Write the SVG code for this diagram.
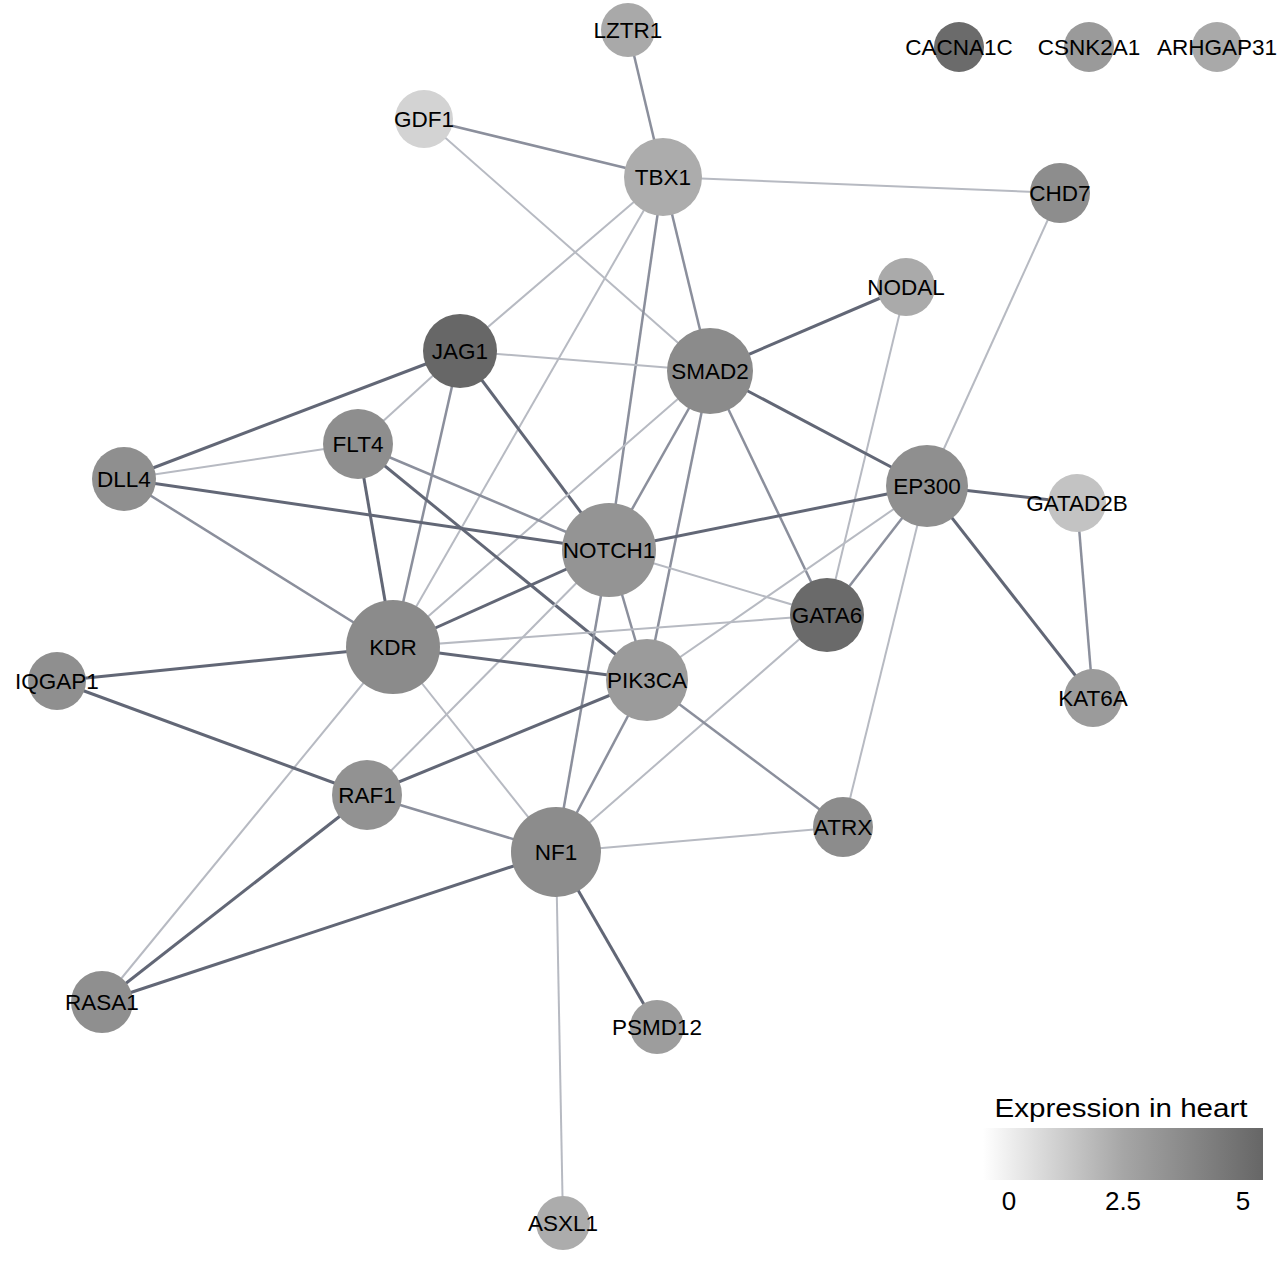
<svg xmlns="http://www.w3.org/2000/svg" width="1280" height="1261" viewBox="0 0 1280 1261">
<defs>
<style>
.e1{stroke:#626776;stroke-width:3;fill:none}
.e2{stroke:#8b8f9c;stroke-width:2.5;fill:none}
.e3{stroke:#b7bac2;stroke-width:2;fill:none}
text{font-family:"Liberation Sans",Arial,sans-serif;font-size:22.5px;fill:#000;text-anchor:middle}
.leg{font-size:26px}
</style>
<linearGradient id="grad" x1="0" y1="0" x2="1" y2="0">
<stop offset="0" stop-color="#ffffff"/>
<stop offset="0.5" stop-color="#a6a6a6"/>
<stop offset="1" stop-color="#666666"/>
</linearGradient>
</defs>
<rect width="1280" height="1261" fill="#ffffff"/>
<g id="edges">
<line class="e2" x1="628" y1="30" x2="663" y2="177"/>
<line class="e2" x1="424" y1="119" x2="663" y2="177"/>
<line class="e3" x1="424" y1="119" x2="710" y2="371"/>
<line class="e3" x1="663" y1="177" x2="1060" y2="193"/>
<line class="e3" x1="663" y1="177" x2="460" y2="351"/>
<line class="e3" x1="663" y1="177" x2="393" y2="647"/>
<line class="e2" x1="663" y1="177" x2="609" y2="550"/>
<line class="e2" x1="663" y1="177" x2="710" y2="371"/>
<line class="e3" x1="1060" y1="193" x2="927" y2="486"/>
<line class="e1" x1="906" y1="287" x2="710" y2="371"/>
<line class="e3" x1="906" y1="287" x2="827" y2="615"/>
<line class="e3" x1="460" y1="351" x2="710" y2="371"/>
<line class="e1" x1="460" y1="351" x2="124" y2="479"/>
<line class="e3" x1="460" y1="351" x2="358" y2="444"/>
<line class="e2" x1="460" y1="351" x2="393" y2="647"/>
<line class="e1" x1="460" y1="351" x2="609" y2="550"/>
<line class="e1" x1="710" y1="371" x2="927" y2="486"/>
<line class="e2" x1="710" y1="371" x2="827" y2="615"/>
<line class="e2" x1="710" y1="371" x2="609" y2="550"/>
<line class="e3" x1="710" y1="371" x2="393" y2="647"/>
<line class="e2" x1="710" y1="371" x2="647" y2="680"/>
<line class="e1" x1="927" y1="486" x2="609" y2="550"/>
<line class="e1" x1="927" y1="486" x2="1077" y2="503"/>
<line class="e1" x1="927" y1="486" x2="1093" y2="698"/>
<line class="e2" x1="927" y1="486" x2="827" y2="615"/>
<line class="e3" x1="927" y1="486" x2="647" y2="680"/>
<line class="e3" x1="927" y1="486" x2="843" y2="827"/>
<line class="e2" x1="1077" y1="503" x2="1093" y2="698"/>
<line class="e3" x1="358" y1="444" x2="124" y2="479"/>
<line class="e1" x1="358" y1="444" x2="393" y2="647"/>
<line class="e2" x1="358" y1="444" x2="609" y2="550"/>
<line class="e1" x1="358" y1="444" x2="647" y2="680"/>
<line class="e1" x1="124" y1="479" x2="609" y2="550"/>
<line class="e2" x1="124" y1="479" x2="393" y2="647"/>
<line class="e1" x1="609" y1="550" x2="393" y2="647"/>
<line class="e3" x1="609" y1="550" x2="827" y2="615"/>
<line class="e2" x1="609" y1="550" x2="647" y2="680"/>
<line class="e2" x1="609" y1="550" x2="556" y2="852"/>
<line class="e3" x1="609" y1="550" x2="367" y2="795"/>
<line class="e1" x1="393" y1="647" x2="57" y2="681"/>
<line class="e1" x1="393" y1="647" x2="647" y2="680"/>
<line class="e3" x1="393" y1="647" x2="827" y2="615"/>
<line class="e3" x1="393" y1="647" x2="556" y2="852"/>
<line class="e3" x1="393" y1="647" x2="102" y2="1002"/>
<line class="e1" x1="57" y1="681" x2="367" y2="795"/>
<line class="e1" x1="367" y1="795" x2="647" y2="680"/>
<line class="e2" x1="367" y1="795" x2="556" y2="852"/>
<line class="e1" x1="367" y1="795" x2="102" y2="1002"/>
<line class="e1" x1="556" y1="852" x2="102" y2="1002"/>
<line class="e3" x1="556" y1="852" x2="843" y2="827"/>
<line class="e1" x1="556" y1="852" x2="657" y2="1027"/>
<line class="e3" x1="556" y1="852" x2="563" y2="1223"/>
<line class="e2" x1="556" y1="852" x2="647" y2="680"/>
<line class="e3" x1="556" y1="852" x2="827" y2="615"/>
<line class="e2" x1="647" y1="680" x2="843" y2="827"/>
</g>
<g id="LZTR1"><circle cx="628" cy="30" r="27" fill="#a9a9a9"/><text x="628" y="38">LZTR1</text></g>
<g id="CACNA1C"><circle cx="959" cy="47" r="25" fill="#6b6b6b"/><text x="959" y="55">CACNA1C</text></g>
<g id="CSNK2A1"><circle cx="1089" cy="47" r="25" fill="#9a9a9a"/><text x="1089" y="55">CSNK2A1</text></g>
<g id="ARHGAP31"><circle cx="1217" cy="47" r="25" fill="#a9a9a9"/><text x="1217" y="55">ARHGAP31</text></g>
<g id="GDF1"><circle cx="424" cy="119" r="29" fill="#d3d3d3"/><text x="424" y="127">GDF1</text></g>
<g id="TBX1"><circle cx="663" cy="177" r="39" fill="#acacac"/><text x="663" y="185">TBX1</text></g>
<g id="CHD7"><circle cx="1060" cy="193" r="30" fill="#8d8d8d"/><text x="1060" y="201">CHD7</text></g>
<g id="NODAL"><circle cx="906" cy="287" r="29" fill="#aaaaaa"/><text x="906" y="295">NODAL</text></g>
<g id="JAG1"><circle cx="460" cy="351" r="37" fill="#676767"/><text x="460" y="359">JAG1</text></g>
<g id="SMAD2"><circle cx="710" cy="371" r="43" fill="#8b8b8b"/><text x="710" y="379">SMAD2</text></g>
<g id="FLT4"><circle cx="358" cy="444" r="35" fill="#8e8e8e"/><text x="358" y="452">FLT4</text></g>
<g id="DLL4"><circle cx="124" cy="479" r="32" fill="#8f8f8f"/><text x="124" y="487">DLL4</text></g>
<g id="EP300"><circle cx="927" cy="486" r="41" fill="#8f8f8f"/><text x="927" y="494">EP300</text></g>
<g id="GATAD2B"><circle cx="1077" cy="503" r="29" fill="#c3c3c3"/><text x="1077" y="511">GATAD2B</text></g>
<g id="NOTCH1"><circle cx="609" cy="550" r="47" fill="#949494"/><text x="609" y="558">NOTCH1</text></g>
<g id="GATA6"><circle cx="827" cy="615" r="37" fill="#6a6a6a"/><text x="827" y="623">GATA6</text></g>
<g id="KDR"><circle cx="393" cy="647" r="47" fill="#8b8b8b"/><text x="393" y="655">KDR</text></g>
<g id="IQGAP1"><circle cx="57" cy="681" r="29" fill="#8f8f8f"/><text x="57" y="689">IQGAP1</text></g>
<g id="PIK3CA"><circle cx="647" cy="680" r="41" fill="#9b9b9b"/><text x="647" y="688">PIK3CA</text></g>
<g id="KAT6A"><circle cx="1093" cy="698" r="29" fill="#9b9b9b"/><text x="1093" y="706">KAT6A</text></g>
<g id="RAF1"><circle cx="367" cy="795" r="35" fill="#929292"/><text x="367" y="803">RAF1</text></g>
<g id="ATRX"><circle cx="843" cy="827" r="30" fill="#8c8c8c"/><text x="843" y="835">ATRX</text></g>
<g id="NF1"><circle cx="556" cy="852" r="45" fill="#8c8c8c"/><text x="556" y="860">NF1</text></g>
<g id="RASA1"><circle cx="102" cy="1002" r="31" fill="#8f8f8f"/><text x="102" y="1010">RASA1</text></g>
<g id="PSMD12"><circle cx="657" cy="1027" r="27" fill="#9d9d9d"/><text x="657" y="1035">PSMD12</text></g>
<g id="ASXL1"><circle cx="563" cy="1223" r="27" fill="#acacac"/><text x="563" y="1231">ASXL1</text></g>
<g id="legend">
<text class="leg" x="1121" y="1117" textLength="253" lengthAdjust="spacingAndGlyphs">Expression in heart</text>
<rect x="983" y="1128" width="280" height="52" fill="url(#grad)"/>
<text class="leg" x="1009" y="1210">0</text>
<text class="leg" x="1123" y="1210">2.5</text>
<text class="leg" x="1243" y="1210">5</text>
</g>
</svg>
